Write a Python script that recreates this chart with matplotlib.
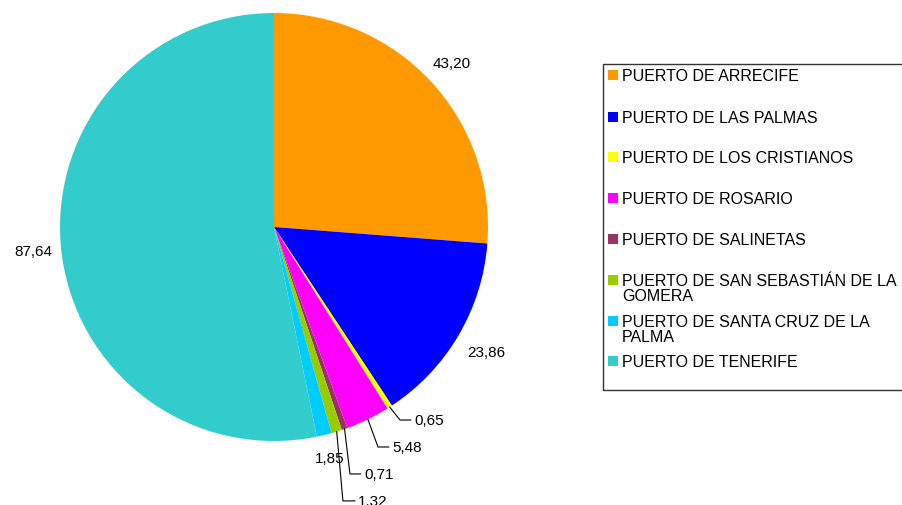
import numpy as np
import matplotlib.pyplot as plt
from matplotlib.patches import Rectangle

plt.rcParams['font.family'] = ['Liberation Sans', 'DejaVu Sans']

puertos = ['PUERTO DE ARRECIFE', 'PUERTO DE LAS PALMAS', 'PUERTO DE LOS CRISTIANOS',
           'PUERTO DE ROSARIO', 'PUERTO DE SALINETAS',
           'PUERTO DE SAN SEBASTIÁN DE LA\nGOMERA', 'PUERTO DE SANTA CRUZ DE LA\nPALMA',
           'PUERTO DE TENERIFE']
valores = [43.20, 23.86, 0.65, 5.48, 0.71, 1.32, 1.85, 87.64]
colores = ['#FF9900', '#0000FF', '#FFFF00', '#FF00FF', '#993366', '#99CC00', '#00CCFF', '#33CCCC']

W, H = 903, 506
fig = plt.figure(figsize=(W / 100, H / 100), dpi=100)
cx, cy, r = 274, 228, 214
ax = fig.add_axes([(cx - r) / W, (H - cy - r) / H, 2 * r / W, 2 * r / H])

wedges, _ = ax.pie(valores, colors=colores, startangle=90, counterclock=False,
                   radius=1, wedgeprops=dict(linewidth=0))
ax.set_xlim(-1, 1)
ax.set_ylim(-1, 1)
ax.axis('off')

def txt(v):
    return ('%.2f' % v).replace('.', ',')

# etiquetas directas (sectores grandes)
for i, dist in [(0, 1.13), (1, 1.15), (7, 1.13), (6, 1.11)]:
    w = wedges[i]
    ang = np.deg2rad((w.theta1 + w.theta2) / 2)
    ax.text(dist * np.cos(ang), dist * np.sin(ang), txt(valores[i]), fontsize=11,
            ha='center', va='center', clip_on=False)

# etiquetas con linea de guia (sectores pequenos)
guias = {2: (0.589, -0.902, 0.654), 3: (0.486, -1.028, 0.551),
         4: (0.355, -1.154, 0.42), 5: (0.322, -1.280, 0.393)}
for i, (ex, ey, tx) in guias.items():
    w = wedges[i]
    ang = np.deg2rad((w.theta1 + w.theta2) / 2)
    px, py = np.cos(ang), np.sin(ang)
    ax.plot([px, ex, tx - 0.015], [py, ey, ey], color='black', lw=0.8, clip_on=False)
    ax.text(tx, ey, txt(valores[i]), fontsize=11, ha='left', va='center', clip_on=False)

# leyenda
fig.patches.append(Rectangle((603 / W, 1 - 391 / H), 310 / W, 326 / H,
                             transform=fig.transFigure, fill=False,
                             edgecolor='#333333', lw=1))
ys = [76, 118, 158, 199, 240, 281, 322, 362]
for y, nombre, c in zip(ys, puertos, colores):
    fig.patches.append(Rectangle((608 / W, 1 - (y + 5) / H), 10 / W, 10 / H,
                                 transform=fig.transFigure, color=c, lw=0))
    fig.text(622 / W, 1 - (y - 7) / H, nombre, fontsize=11.5, ha='left', va='top',
             linespacing=0.98)

fig.savefig('out.png', dpi=100)
